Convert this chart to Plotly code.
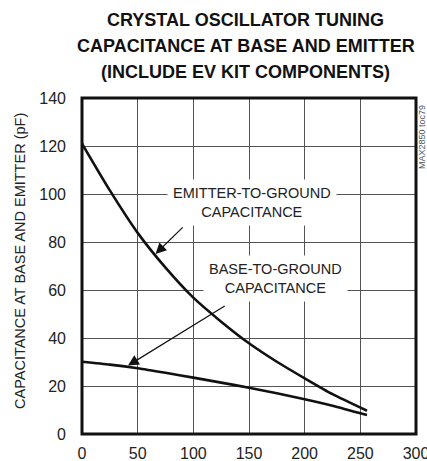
import plotly.graph_objects as go

# Data
emitter_x = [0, 25, 50, 75, 100, 125, 150, 175, 200, 225, 256]
emitter_y = [121, 101.5, 83.8, 69.3, 56.8, 46.8, 37.8, 30.1, 23.2, 16.6, 9.7]
base_x = [0, 25, 50, 75, 100, 125, 150, 175, 200, 225, 256]
base_y = [30.1, 28.9, 27.4, 25.5, 23.5, 21.4, 19.3, 17.0, 14.5, 11.8, 7.9]

x_ticks = [0, 50, 100, 150, 200, 250, 300]
y_ticks = [0, 20, 40, 60, 80, 100, 120, 140]

title_lines = ["CRYSTAL OSCILLATOR TUNING",
               "CAPACITANCE AT BASE AND EMITTER",
               "(INCLUDE EV KIT COMPONENTS)"]
y_title = "CAPACITANCE AT BASE AND EMITTER (pF)"
emitter_label = "EMITTER-TO-GROUND<br>CAPACITANCE"
base_label = "BASE-TO-GROUND<br>CAPACITANCE"
toc_label = "MAX2850 toc79"

FONT = "Liberation Sans, Arial, sans-serif"
TXT = "#222222"

W, H = 427, 461
# plot area targets (window px)
PL, PR, PT, PB = 82, 416, 98, 434


def px_x(p):
    return (p - PL) / (PR - PL)


def px_y(p):
    return (PB - p) / (PB - PT)


fig = go.Figure()
for xs, ys in ((emitter_x, emitter_y), (base_x, base_y)):
    fig.add_trace(go.Scatter(x=xs, y=ys, mode="lines",
                             line=dict(color="#111111", width=2.6, shape="spline", smoothing=0.6),
                             hoverinfo="skip", showlegend=False, cliponaxis=False))

annotations = []
# arrows
annotations.append(dict(x=66, y=75, ax=91.8, ay=86.7, xref="x", yref="y", axref="x", ayref="y",
                        text="", showarrow=True, arrowhead=2, arrowsize=1.8, arrowwidth=1.2,
                        arrowcolor="#111111"))
annotations.append(dict(x=41.3, y=28.5, ax=129.5, ay=53.75, xref="x", yref="y", axref="x", ayref="y",
                        text="", showarrow=True, arrowhead=2, arrowsize=1.8, arrowwidth=1.2,
                        arrowcolor="#111111"))
# labels
annotations.append(dict(x=152.4, y=96.5, xref="x", yref="y", text=emitter_label, showarrow=False,
                        font=dict(family=FONT, size=14.5, color=TXT), bgcolor="white",
                        borderpad=5, xanchor="center", yanchor="middle"))
annotations.append(dict(x=174, y=64.6, xref="x", yref="y", text=base_label, showarrow=False,
                        font=dict(family=FONT, size=14.5, color=TXT), bgcolor="white",
                        borderpad=5, xanchor="center", yanchor="middle"))
# title, one annotation per line
for line, yc in zip(title_lines, (19.5, 46, 72.5)):
    annotations.append(dict(x=px_x(245.5), y=px_y(yc), xref="paper", yref="paper",
                            text="<b>" + line + "</b>", showarrow=False,
                            font=dict(family=FONT, size=18, color="#111111"),
                            xanchor="center", yanchor="middle"))
# y title
annotations.append(dict(x=px_x(19.5), y=px_y(261.5), xref="paper", yref="paper",
                        text=y_title, textangle=-90, showarrow=False,
                        font=dict(family=FONT, size=14.5, color=TXT),
                        xanchor="center", yanchor="middle"))
# toc label
annotations.append(dict(x=px_x(421.5), y=px_y(137.5), xref="paper", yref="paper",
                        text=toc_label, textangle=-90, showarrow=False,
                        font=dict(family=FONT, size=9, color="#555555"),
                        xanchor="center", yanchor="middle"))

fig.update_layout(
    width=W, height=H,
    margin=dict(l=PL, r=W - PR, t=PT, b=H - PB, pad=0),
    paper_bgcolor="white", plot_bgcolor="white",
    annotations=annotations,
    shapes=[dict(type="rect", xref="paper", yref="paper", x0=0, x1=1, y0=0, y1=1,
                 line=dict(color="#111111", width=3), layer="above")],
    xaxis=dict(range=[0, 300], tickvals=x_ticks, ticktext=[str(v) for v in x_ticks],
               showgrid=True, gridcolor="#555555", gridwidth=1, zeroline=False,
               showline=False, ticks="", ticklabelstandoff=8, automargin=False,
               ticklabeloverflow="allow",
               tickfont=dict(family=FONT, size=16, color=TXT), fixedrange=True),
    yaxis=dict(range=[0, 140], tickvals=y_ticks, ticktext=[str(v) for v in y_ticks],
               showgrid=True, gridcolor="#555555", gridwidth=1, zeroline=False,
               showline=False, ticks="", ticklabelstandoff=15, automargin=False,
               ticklabeloverflow="allow",
               tickfont=dict(family=FONT, size=16, color=TXT), fixedrange=True),
)

fig.write_html(
    "out.html",
    config={"displayModeBar": False, "staticPlot": True},
    post_script="document.body.style.margin='0';document.body.style.overflow='hidden';"
                "document.documentElement.style.overflow='hidden';",
)
